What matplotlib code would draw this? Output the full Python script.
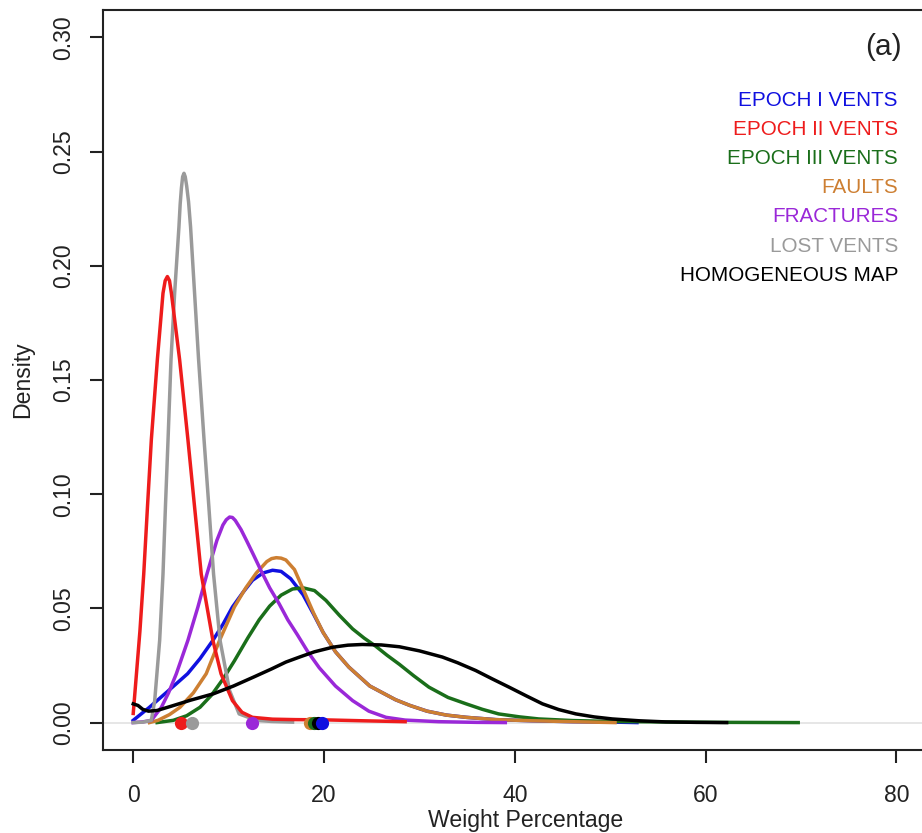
"""Kernel density curves of weight percentage for each vent/structure class."""

import matplotlib.pyplot as plt

OUT_PATH = "out.png"

# density curves, sampled along weight percentage
epoch1_x = [0, 1.7, 3.7, 5.7, 7.0, 8.35, 9.4, 10.4, 11.5, 12.5, 13.6, 14.6, 15.5, 16.5,
            17.8, 18.9, 19.9, 21.2, 22.6, 24.8, 27.5, 29.0, 30.8, 32.8, 34.9, 38.0,
            41.8, 46.0, 50.5, 52.8]
epoch1_y = [0.001, 0.0067, 0.014, 0.0214, 0.028, 0.036, 0.043, 0.0506, 0.057, 0.0623,
            0.0655, 0.0667, 0.0662, 0.0630, 0.0560, 0.0475, 0.0395, 0.031, 0.0243, 0.016,
            0.010, 0.0075, 0.005, 0.0033, 0.0023, 0.0013, 0.0008, 0.0004, 0.0002, 0.0]

epoch2_x = [0, 0.35, 0.7, 1.1, 1.5, 1.9, 2.53, 3.12, 3.35, 3.58, 3.8, 4.0, 4.86, 5.73,
            6.43, 7.13, 8.35, 9.2, 10.4, 11.4, 12.5, 14.6, 17.0, 20.0, 24.0, 28.5]
epoch2_y = [0.004, 0.022, 0.040, 0.065, 0.095, 0.124, 0.159, 0.188, 0.1935, 0.1953,
            0.1935, 0.188, 0.159, 0.124, 0.0944, 0.065, 0.036, 0.0214, 0.0096, 0.0045,
            0.0023, 0.0015, 0.0013, 0.0012, 0.0008, 0.0004]

epoch3_x = [2.5, 4.2, 5.6, 7.0, 8.2, 9.4, 10.6, 12.0, 13.2, 14.3, 15.5, 16.7, 17.8, 19.0,
            20.2, 21.6, 23.0, 24.2, 25.4, 26.6, 27.9, 29.4, 31.0, 33.0, 34.9, 36.6,
            38.3, 40.5, 42.5, 46.0, 50.0, 55.0, 62.0, 69.7]
epoch3_y = [0.0, 0.001, 0.003, 0.0067, 0.012, 0.019, 0.027, 0.037, 0.045, 0.051, 0.0558,
            0.0585, 0.0590, 0.0578, 0.0535, 0.0470, 0.0410, 0.0370, 0.0335, 0.0295,
            0.0255, 0.0205, 0.0155, 0.0110, 0.0082, 0.0058, 0.0038, 0.0025, 0.0016,
            0.0009, 0.0005, 0.0003, 0.0001, 0.0]

faults_x = [1.7, 2.6, 3.8, 4.9, 6.3, 7.65, 9.05, 10.6, 11.8, 12.9, 14.0, 14.5, 15.0, 15.5,
            16.0, 16.9, 17.8, 18.9, 19.9, 21.2, 22.6, 24.8, 27.5, 29.0, 30.8, 32.8, 34.9,
            38.0, 41.8, 46.0, 50.5]
faults_y = [0.0, 0.001, 0.0035, 0.0067, 0.013, 0.0214, 0.036, 0.0506, 0.059, 0.0655,
            0.0705, 0.0718, 0.0722, 0.0720, 0.0712, 0.0670, 0.0585, 0.0480, 0.0395, 0.031,
            0.0243, 0.016, 0.010, 0.0075, 0.005, 0.0033, 0.0023, 0.0013, 0.0008, 0.0004,
            0.0]

fractures_x = [0, 1.0, 1.9, 2.95, 3.7, 4.52, 5.73, 6.78, 7.72, 8.77, 9.4, 9.75, 10.1,
               10.4, 10.7, 11.3, 11.9, 12.6, 13.4, 14.3, 15.3, 16.2, 17.2, 18.3, 19.5,
               21.2, 23.0, 24.7, 26.5, 28.5, 32.0, 36.0, 39.0]
fractures_y = [0.0, 0.0003, 0.001, 0.0067, 0.013, 0.0214, 0.036, 0.0506, 0.065, 0.0798,
               0.0865, 0.0888, 0.0900, 0.0898, 0.0885, 0.0845, 0.0795, 0.0735, 0.0665,
               0.0590, 0.0520, 0.0450, 0.0385, 0.0310, 0.0240, 0.0160, 0.0096, 0.0050,
               0.0023, 0.0011, 0.0004, 0.0001, 0.0]

lost_x = [0, 1.0, 1.9, 2.25, 2.77, 3.12, 3.38, 3.65, 3.96, 4.34, 4.79, 4.92, 5.05, 5.18,
          5.32, 5.45, 5.6, 5.8, 6.01, 6.43, 6.85, 7.42, 7.93, 8.42, 9.1, 10.1, 11.1, 12.9,
          14.5, 16.7]
lost_y = [0.0, 0.0002, 0.001, 0.0096, 0.036, 0.065, 0.095, 0.124, 0.159, 0.188, 0.217,
          0.227, 0.234, 0.239, 0.2405, 0.239, 0.235, 0.228, 0.217, 0.188, 0.159, 0.124,
          0.0944, 0.065, 0.036, 0.014, 0.0038, 0.001, 0.0005, 0.0002]

homog_x = [0, 0.5, 1.0, 1.6, 2.5, 4.0, 6.0, 8.4, 10.5, 12.6, 14.5, 16.0, 17.5, 19.0, 20.9,
           22.5, 24.0, 26.0, 27.9, 30.0, 32.4, 34.0, 35.9, 37.6, 39.4, 41.2, 42.9, 44.6,
           46.4, 48.3, 50.2, 53.0, 55.8, 59.0, 62.2]
homog_y = [0.0082, 0.0075, 0.0058, 0.0050, 0.0053, 0.0072, 0.0098, 0.0126, 0.0160, 0.0199,
           0.0235, 0.0265, 0.0288, 0.0310, 0.0330, 0.0339, 0.0342, 0.0340, 0.0332, 0.0314,
           0.0287, 0.0262, 0.0228, 0.0192, 0.0155, 0.0117, 0.0082, 0.0057, 0.0038,
           0.0025, 0.0016, 0.0008, 0.0003, 0.0001, 0.0]

# mean weight percentage of each class (dots on the baseline)
mean_x = {
    "EPOCH II VENTS": 4.97,
    "LOST VENTS": 6.12,
    "FRACTURES": 12.47,
    "FAULTS": 18.5,
    "EPOCH III VENTS": 19.0,
    "HOMOGENEOUS MAP": 19.4,
    "EPOCH I VENTS": 19.8,
}

legend_labels = ["EPOCH I VENTS", "EPOCH II VENTS", "EPOCH III VENTS", "FAULTS",
                 "FRACTURES", "LOST VENTS", "HOMOGENEOUS MAP"]
x_ticks = [0, 20, 40, 60, 80]
y_ticks = [0.00, 0.05, 0.10, 0.15, 0.20, 0.25, 0.30]

COLORS = {
    "EPOCH I VENTS": "#1010e0",
    "EPOCH II VENTS": "#ee1c1c",
    "EPOCH III VENTS": "#1a6e1a",
    "FAULTS": "#cd7f32",
    "FRACTURES": "#9a28d8",
    "LOST VENTS": "#9a9a9a",
    "HOMOGENEOUS MAP": "#000000",
}

CURVES = {
    "EPOCH I VENTS": (epoch1_x, epoch1_y),
    "EPOCH III VENTS": (epoch3_x, epoch3_y),
    "FAULTS": (faults_x, faults_y),
    "FRACTURES": (fractures_x, fractures_y),
    "LOST VENTS": (lost_x, lost_y),
    "EPOCH II VENTS": (epoch2_x, epoch2_y),
    "HOMOGENEOUS MAP": (homog_x, homog_y),
}

plt.rcParams["font.family"] = ["Liberation Sans", "DejaVu Sans"]

W_PX, H_PX = 922, 833
TEXT_COLOR = "#222222"
AXIS_FONT = 16.6


def main() -> None:
    fig = plt.figure(figsize=(W_PX / 100, H_PX / 100), dpi=100)
    ax = fig.add_axes([102.7 / W_PX, (H_PX - 750) / H_PX, 824.3 / W_PX, 740 / H_PX])

    ax.axhline(0, color="#e4e4e4", lw=1.3, zorder=1)

    for name, (xs, ys) in CURVES.items():
        ax.plot(xs, ys, color=COLORS[name], lw=2.5, solid_joinstyle="round", zorder=2)

    for name, mx in mean_x.items():
        ax.plot([mx], [0], "o", color=COLORS[name], ms=9.5, mec="none", zorder=3)

    ax.set_xlim(-3.2, 83.2)
    ax.set_ylim(-0.012, 0.312)
    ax.set_xticks(x_ticks)
    ax.set_xticklabels([str(t) for t in x_ticks])
    ax.set_yticks(y_ticks)
    ax.set_yticklabels([f"{t:.2f}" for t in y_ticks], rotation=90, va="center")

    for spine in ax.spines.values():
        spine.set_linewidth(1.5)
        spine.set_color(TEXT_COLOR)
    ax.tick_params(axis="both", length=9.5, width=1.5, color=TEXT_COLOR,
                   labelsize=AXIS_FONT, labelcolor=TEXT_COLOR)
    ax.tick_params(axis="x", pad=15)
    ax.tick_params(axis="y", pad=10)

    fig.text(526 / W_PX, 1 - 827 / H_PX, "Weight Percentage", ha="center",
             va="baseline", fontsize=AXIS_FONT, color=TEXT_COLOR)
    fig.text(23 / W_PX, 1 - 380 / H_PX, "Density", ha="center", va="center",
             rotation=90, fontsize=AXIS_FONT, color=TEXT_COLOR)

    # panel tag and coloured legend, right aligned inside the plot
    to_ax = lambda px, py: ((px - 102.7) / 824.3, (750 - py) / 740)
    tx, ty = to_ax(902, 47)
    ax.text(tx, ty, "(a)", transform=ax.transAxes, ha="right", va="center",
            fontsize=21.5, color=TEXT_COLOR)
    for i, label in enumerate(legend_labels):
        lx, ly = to_ax(898, 100 + 29.2 * i)
        ax.text(lx, ly, label, transform=ax.transAxes, ha="right", va="center",
                fontsize=14.9, color=COLORS[label])

    fig.savefig(OUT_PATH, dpi=100)
    plt.close(fig)


if __name__ == "__main__":
    main()
